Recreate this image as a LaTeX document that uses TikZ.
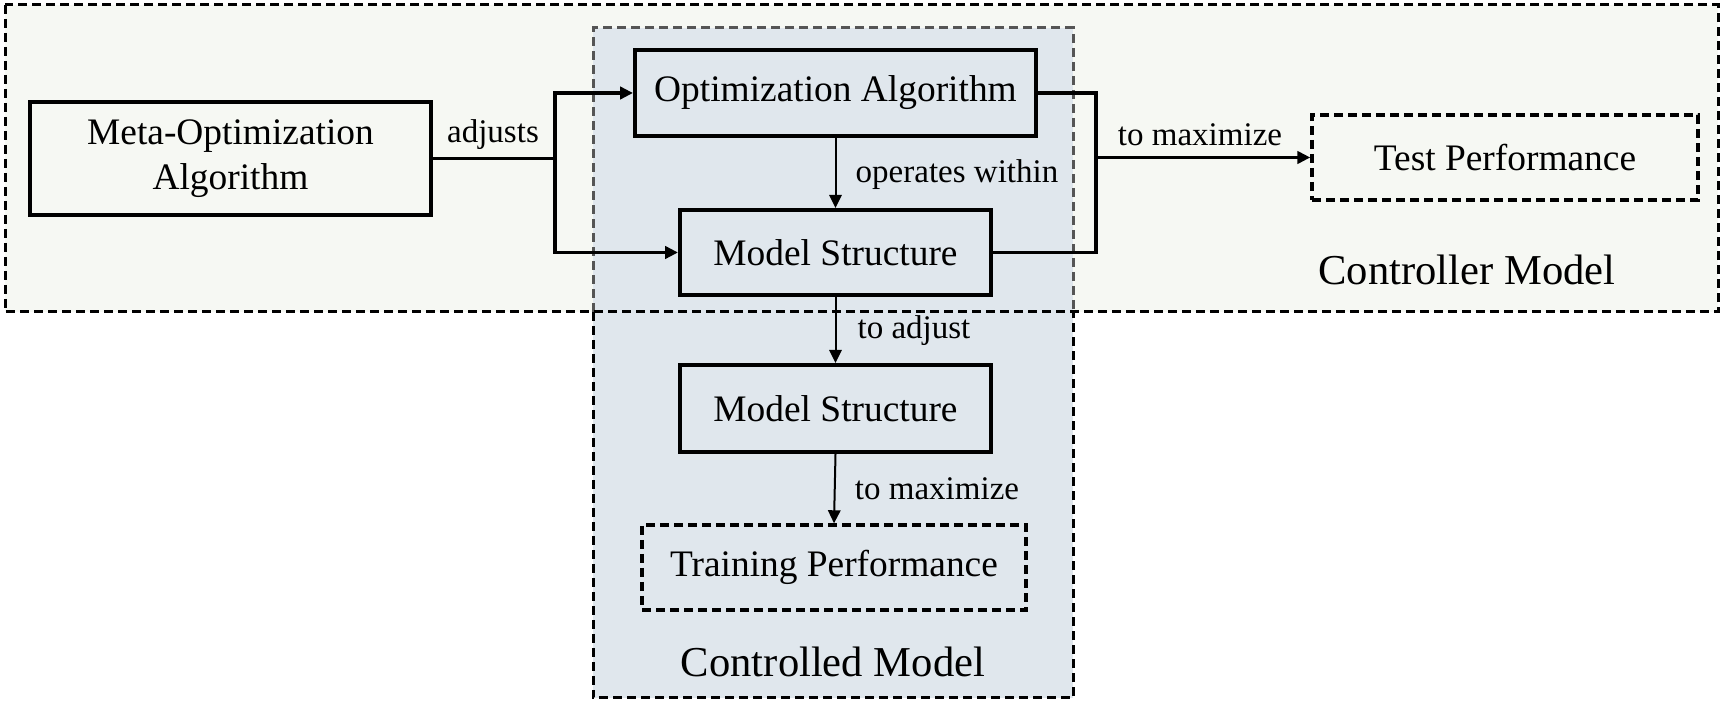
\documentclass[tikz,border=0pt]{standalone}
\usepackage{fontspec}
\setmainfont{Liberation Serif}
\usetikzlibrary{arrows.meta}
\definecolor{ctrlbg}{RGB}{246,248,243}
\definecolor{bluebg}{RGB}{224,231,237}
\definecolor{dashgray}{RGB}{85,85,85}
\tikzset{
  solidbox/.style={draw=black, line width=2pt, rectangle, inner sep=0pt, align=center, font=\fontsize{18.7pt}{22.5pt}\selectfont},
  dashbox/.style={draw=black, line width=1.7pt, dash pattern=on 4.5pt off 2.5pt, rectangle, inner sep=0pt, align=center, font=\fontsize{18.7pt}{22.5pt}\selectfont},
  lbl/.style={inner sep=0pt, font=\fontsize{16.5pt}{19pt}\selectfont},
  grouptitle/.style={inner sep=0pt, font=\fontsize{21.3pt}{25pt}\selectfont},
  thickconn/.style={line width=1.7pt},
  thinconn/.style={line width=1pt},
  tip/.style={-{Triangle[length=6.5pt,width=6.2pt]}},
  groupdash/.style={line width=1.5pt, dash pattern=on 4.5pt off 2.5pt}
}
\begin{document}
\begin{tikzpicture}[x=0.5pt,y=-0.5pt]
\useasboundingbox (0,0) rectangle (1724,704);
% backgrounds
\fill[ctrlbg] (5,5) rectangle (1718,312);
\fill[bluebg] (593,28) rectangle (1073,698);
% controlled model border
\draw[groupdash, draw=dashgray] (593,312) -- (593,28) -- (1073,28) -- (1073,312);
\draw[groupdash, draw=black] (593,312) -- (593,698) -- (1073,698) -- (1073,312);
% controller model border
\draw[groupdash, draw=black] (5,5) rectangle (1718,312);

% nodes
\node[solidbox, minimum width=200.5pt, minimum height=56.5pt] (meta) at (230.5,158.5) {Meta-Optimization\\Algorithm};
\node[solidbox, minimum width=200.5pt, minimum height=43pt] (opt) at (835.5,93) {Optimization Algorithm};
\node[solidbox, minimum width=155.5pt, minimum height=42.5pt] (ms1) at (835.5,252.5) {Model Structure};
\node[solidbox, minimum width=155.5pt, minimum height=43.5pt] (ms2) at (835.5,408.5) {Model Structure};
\node[dashbox, minimum width=192pt, minimum height=42.5pt] (train) at (834,567.5) {Training Performance};
\node[dashbox, minimum width=193pt, minimum height=42.5pt] (test) at (1505,157.5) {Test Performance};

\node[grouptitle] (ctrlr) at (1467,270) {Controller Model};
\node[grouptitle] (ctrld) at (833,662) {Controlled Model};

% connectors
\coordinate (bl) at (555,158.5);
\coordinate (br) at (1096,157.5);
\draw[thickconn] (meta.east) -- (bl);
\draw[thickconn, tip] (bl) |- (opt.west);
\draw[thickconn, tip] (bl) |- (ms1.west);
\draw[thickconn] (opt.east) -| (br);
\draw[thickconn] (ms1.east) -| (br);
\draw[thickconn, tip] (br) -- (test.west);
\draw[thinconn, tip] (opt.south) -- (ms1.north);
\draw[thinconn, tip] (ms1.south) -- (ms2.north);
\draw[thinconn, tip] (ms2.south) -- (train.north);

% labels
\node[lbl] (ladj) at (493,135) {adjusts};
\node[lbl] (lmax1) at (1200,135) {to maximize};
\node[lbl] (lop) at (957,175) {operates within};
\node[lbl] (ltoadj) at (914,331) {to adjust};
\node[lbl] (lmax2) at (937,489) {to maximize};
\end{tikzpicture}
\end{document}
